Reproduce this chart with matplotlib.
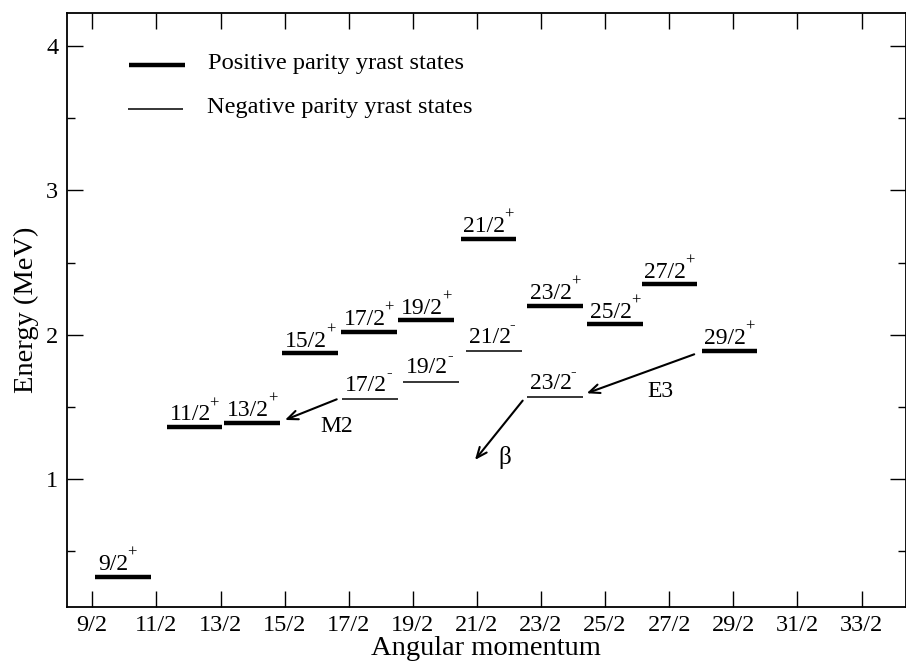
import matplotlib
matplotlib.use("Agg")
import matplotlib.pyplot as plt
from matplotlib.ticker import FixedLocator

plt.rcParams['font.family'] = ['Liberation Serif', 'DejaVu Serif']

# Yrast levels (spin label, excitation energy in MeV)
pos_spins = ['9/2', '11/2', '13/2', '15/2', '17/2', '19/2', '21/2', '23/2', '25/2', '27/2', '29/2']
pos_energy = [0.321, 1.360, 1.390, 1.871, 2.019, 2.100, 2.663, 2.201, 2.072, 2.349, 1.889]

neg_spins = ['17/2', '19/2', '21/2', '23/2']
neg_energy = [1.554, 1.674, 1.887, 1.566]

# Horizontal placement of each level bar (left edge, in spin units)
pos_left = [4.542, 5.661, 6.555, 7.464, 8.380, 9.274, 10.247, 11.286, 12.222, 13.071, 14.007]
neg_left = [8.400, 9.352, 10.330, 11.286]
bar_len = 0.866

tick_vals = [4.5 + i for i in range(13)]
tick_labels = ['9/2', '11/2', '13/2', '15/2', '17/2', '19/2', '21/2', '23/2',
               '25/2', '27/2', '29/2', '31/2', '33/2']

fig = plt.figure(figsize=(9.06, 6.63), dpi=100)
ax = fig.add_axes([66.7 / 906, 1 - 606.7 / 663, (905.5 - 66.7) / 906, (606.7 - 12.7) / 663])

thick = 3.2
thin = 1.1
label_fs = 17
sup_fs = 12

ax.set_xlim(4.1006, 17.186)
ax.set_ylim(0.115, 4.231)

labels = []


def draw_level(x0, e, spin, parity, lw, dy):
    ax.plot([x0, x0 + bar_len], [e, e], color='black', lw=lw, solid_capstyle='butt')
    t = ax.annotate(spin, xy=(x0, e), xytext=(2.0, dy), textcoords='offset points',
                    ha='left', va='baseline', fontsize=label_fs)
    labels.append((t, x0, e, parity, dy))


for x0, e, s in zip(pos_left, pos_energy, pos_spins):
    draw_level(x0, e, s, '+', thick, 4.8)
for x0, e, s in zip(neg_left, neg_energy, neg_spins):
    draw_level(x0, e, s, '-', thin, 6.0)

# Parity superscripts placed just after each spin label
fig.canvas.draw()
renderer = fig.canvas.get_renderer()
for t, x0, e, parity, dy in labels:
    w_pts = t.get_window_extent(renderer).width * 72.0 / fig.dpi
    ax.annotate(parity, xy=(x0, e), xytext=(2.0 + w_pts - 0.8, dy + 9.5),
                textcoords='offset points', ha='left', va='baseline', fontsize=sup_fs)

# Decay arrows
arrow_kw = dict(arrowstyle='->,head_length=0.75,head_width=0.32', lw=1.5, color='black',
                shrinkA=0, shrinkB=0)
ax.annotate('', xy=(7.506, 1.409), xytext=(8.313, 1.552), arrowprops=arrow_kw)
ax.annotate('', xy=(12.213, 1.594), xytext=(13.89, 1.864), arrowprops=arrow_kw)
ax.annotate('', xy=(10.47, 1.132), xytext=(11.214, 1.543), arrowprops=arrow_kw)
ax.text(8.313, 1.362, 'M2', ha='center', va='center', fontsize=17)
ax.text(13.367, 1.605, 'E3', ha='center', va='center', fontsize=17)
ax.text(10.94, 1.150, 'β', ha='center', va='center', fontsize=18)

# Hand-drawn key
ax.plot([0.0743, 0.141], [0.912, 0.912], color='black', lw=thick, transform=ax.transAxes,
        solid_capstyle='butt')
ax.plot([0.0731, 0.139], [0.838, 0.838], color='black', lw=thin, transform=ax.transAxes,
        solid_capstyle='butt')
ax.text(0.1686, 0.914, 'Positive parity yrast states', transform=ax.transAxes,
        ha='left', va='center', fontsize=17.6)
ax.text(0.1674, 0.840, 'Negative parity yrast states', transform=ax.transAxes,
        ha='left', va='center', fontsize=17.6)

ax.xaxis.set_major_locator(FixedLocator(tick_vals))
ax.set_xticklabels(tick_labels)
ax.yaxis.set_major_locator(FixedLocator([1, 2, 3, 4]))
ax.yaxis.set_minor_locator(FixedLocator([0.5, 1.5, 2.5, 3.5]))

ax.tick_params(which='both', direction='in', top=True, right=True, width=1.0)
ax.tick_params(which='major', length=11.5, labelsize=17.5)
ax.tick_params(axis='x', which='major', pad=6)
ax.tick_params(axis='y', which='major', pad=6)
ax.tick_params(which='minor', length=5.8)
for sp in ax.spines.values():
    sp.set_linewidth(1.3)

ax.set_xlabel('Angular momentum', fontsize=20.5, labelpad=0)
ax.set_ylabel('Energy (MeV)', fontsize=20.5, labelpad=5)

fig.savefig('out.png', dpi=100)
